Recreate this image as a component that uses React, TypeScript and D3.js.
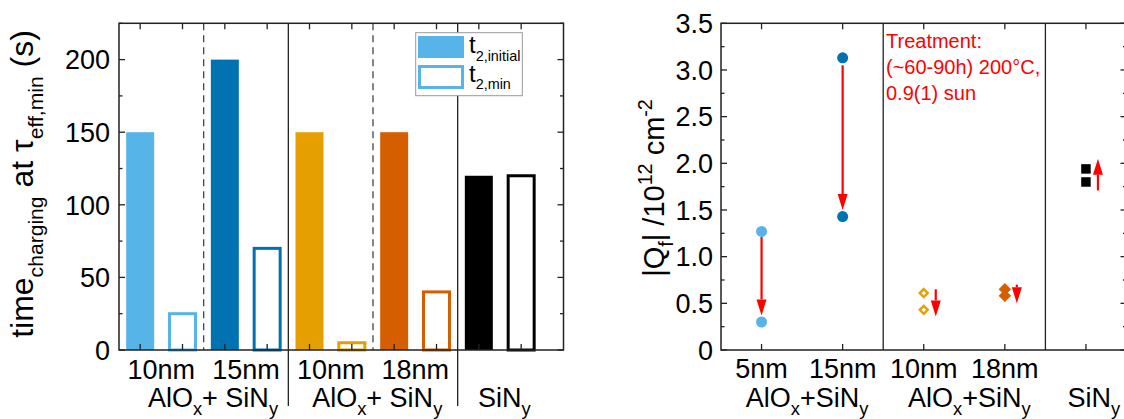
import React, { useEffect, useRef } from "react";
import * as d3 from "d3";

// left panel: charging time bars
const barLabels = ["10nm", "15nm", "10nm", "18nm", ""];
const tInitial = [150, 200, 150, 150, 120];
const tMin = [25, 70, 5, 40, 120];
const barColors = ["#56B4E9", "#0072B2", "#E69F00", "#D55E00", "#000000"];
const leftTicks = [0, 50, 100, 150, 200];
const leftMinor = [25, 75, 125, 175, 225];

// right panel: |Qf| before / after treatment
const qfLabels = ["5nm", "15nm", "10nm", "18nm", ""];
const qfFirst = [1.27, 3.13, 0.61, 0.65, 1.94];
const qfSecond = [0.30, 1.43, 0.43, 0.58, 1.80];
const qfColors = ["#56B4E9", "#0072B2", "#E69F00", "#D55E00", "#000000"];
const qfShapes = ["circle", "circle", "diamondOpen", "diamond", "square"];
const arrowFrom = [1.21, 3.05, 0.65, 0.70, 1.71];
const arrowTo = [0.37, 1.50, 0.36, 0.50, 2.05];
const rightTicks = [0, 0.5, 1, 1.5, 2, 2.5, 3, 3.5];
const rightMinor = [0.25, 0.75, 1.25, 1.75, 2.25, 2.75, 3.25];
const treatment = ["Treatment:", "(~60-90h) 200°C,", "0.9(1) sun"];

const FONT = "'Liberation Sans', Arial, sans-serif";
const TOP = 23.3;
const BOTTOM = 350;
const AXIS = "#222";

type Part = [string, string | null];

function richText(sel: any, parts: Part[], size: number, small = 0.68) {
  let shift = 0;
  parts.forEach(([s, kind]) => {
    const target = kind === "sub" ? size * 0.32 : kind === "sup" ? -size * 0.42 : 0;
    sel.append("tspan")
      .attr("dy", target - shift)
      .attr("font-size", kind ? size * small : size)
      .text(s);
    shift = target;
  });
}

function drawFrame(g: any, x: any, y: any, xPos: number[], major: number[], minor: number[]) {
  const [x0, x1] = x.range();
  g.append("rect")
    .attr("x", x0).attr("y", TOP)
    .attr("width", x1 - x0).attr("height", BOTTOM - TOP)
    .attr("fill", "none").attr("stroke", AXIS).attr("stroke-width", 1.5);
  xPos.forEach((p) => {
    g.append("line").attr("x1", x(p)).attr("x2", x(p)).attr("y1", BOTTOM).attr("y2", BOTTOM - 6)
      .attr("stroke", AXIS).attr("stroke-width", 1.3);
    g.append("line").attr("x1", x(p)).attr("x2", x(p)).attr("y1", TOP).attr("y2", TOP + 6)
      .attr("stroke", AXIS).attr("stroke-width", 1.3);
  });
  major.concat(minor).forEach((v) => {
    const len = major.includes(v) ? 6 : 3.5;
    g.append("line").attr("x1", x0).attr("x2", x0 + len).attr("y1", y(v)).attr("y2", y(v))
      .attr("stroke", AXIS).attr("stroke-width", 1.3);
    g.append("line").attr("x1", x1).attr("x2", x1 - len).attr("y1", y(v)).attr("y2", y(v))
      .attr("stroke", AXIS).attr("stroke-width", 1.3);
  });
}

function drawArrow(g: any, x: number, y1: number, y2: number) {
  const dir = y2 > y1 ? 1 : -1;
  const head = 16, half = 5;
  g.append("line").attr("x1", x).attr("x2", x).attr("y1", y1).attr("y2", y2 - dir * head)
    .attr("stroke", "#FF0000").attr("stroke-width", 2.2);
  g.append("path")
    .attr("d", `M${x},${y2} L${x - half},${y2 - dir * head} L${x + half},${y2 - dir * head} Z`)
    .attr("fill", "#FF0000");
}

export default function App() {
  const ref = useRef<SVGSVGElement>(null);

  useEffect(() => {
    const svg = d3.select(ref.current);
    svg.selectAll("*").remove();

    // ---------- left chart ----------
    const xL = d3.scaleLinear().domain([0.5, 11]).range([119, 563.5]);
    const yL = d3.scaleLinear().domain([0, 225]).range([BOTTOM, TOP]);
    const left = svg.append("g");

    [2.5, 6.5].forEach((p) => {
      left.append("line").attr("x1", xL(p)).attr("x2", xL(p)).attr("y1", TOP).attr("y2", BOTTOM)
        .attr("stroke", "#444").attr("stroke-width", 1.3).attr("stroke-dasharray", "7,5");
    });
    [4.5, 8.5].forEach((p) => {
      left.append("line").attr("x1", xL(p)).attr("x2", xL(p)).attr("y1", TOP).attr("y2", 406)
        .attr("stroke", AXIS).attr("stroke-width", 1.3);
    });

    tInitial.forEach((v, i) => {
      const p = 2 * i + 1;
      left.append("rect")
        .attr("x", xL(p) - 14).attr("width", 28)
        .attr("y", yL(v)).attr("height", BOTTOM - yL(v))
        .attr("fill", barColors[i]);
    });
    tMin.forEach((v, i) => {
      const p = 2 * i + 2;
      left.append("rect")
        .attr("x", xL(p) - 13).attr("width", 26)
        .attr("y", yL(v)).attr("height", BOTTOM - yL(v))
        .attr("fill", "white").attr("stroke", barColors[i]).attr("stroke-width", 3);
    });

    drawFrame(left, xL, yL, d3.range(1, 11), leftTicks, leftMinor);

    leftTicks.forEach((v) => {
      left.append("text").attr("x", 110).attr("y", yL(v)).attr("dy", "0.36em")
        .attr("text-anchor", "end").attr("font-size", 27).text(v);
    });

    barLabels.forEach((s, i) => {
      if (!s) return;
      left.append("text").attr("x", xL(2 * i + 1.5)).attr("y", 379)
        .attr("text-anchor", "middle").attr("font-size", 27).text(s);
    });
    [2.72, 6.6].forEach((p) => {
      const t = left.append("text").attr("x", xL(p)).attr("y", 406.7).attr("text-anchor", "middle");
      richText(t, [["AlO", null], ["x", "sub"], ["+ SiN", null], ["y", "sub"]], 27);
    });
    const sinL = left.append("text").attr("x", xL(9.6)).attr("y", 406.7).attr("text-anchor", "middle");
    richText(sinL, [["SiN", null], ["y", "sub"]], 27);

    // legend
    const lg = left.append("g");
    lg.append("rect").attr("x", 415.7).attr("y", 32.7).attr("width", 106.6).attr("height", 63)
      .attr("fill", "white").attr("stroke", "#999").attr("stroke-width", 1);
    lg.append("rect").attr("x", 418).attr("y", 36).attr("width", 46).attr("height", 22)
      .attr("fill", barColors[0]);
    lg.append("rect").attr("x", 419.5).attr("y", 66.5).attr("width", 43).attr("height", 21)
      .attr("fill", "white").attr("stroke", barColors[0]).attr("stroke-width", 3);
    const l1 = lg.append("text").attr("x", 469).attr("y", 53.3);
    richText(l1, [["t", null], ["2,initial", "sub"]], 24, 0.6);
    const l2 = lg.append("text").attr("x", 469).attr("y", 81.7);
    richText(l2, [["t", null], ["2,min", "sub"]], 24, 0.6);

    const titleL = left.append("text")
      .attr("transform", "translate(33,184) rotate(-90)")
      .attr("text-anchor", "middle");
    richText(titleL, [["time", null], ["charging", "sub"], [" at ", null], ["τ", null], ["eff,min", "sub"], [" (s)", null]], 32, 0.66);

    // ---------- right chart ----------
    const xR = d3.scaleLinear().domain([0.5, 5.5]).range([721, 1126.5]);
    const yR = d3.scaleLinear().domain([0, 3.5]).range([BOTTOM, TOP]);
    const right = svg.append("g");

    [2.5, 4.5].forEach((p) => {
      right.append("line").attr("x1", xR(p)).attr("x2", xR(p)).attr("y1", TOP).attr("y2", BOTTOM)
        .attr("stroke", AXIS).attr("stroke-width", 1.3);
    });
    drawFrame(right, xR, yR, d3.range(1, 6), rightTicks, rightMinor);

    rightTicks.forEach((v) => {
      right.append("text").attr("x", 713).attr("y", yR(v)).attr("dy", "0.36em")
        .attr("text-anchor", "end").attr("font-size", 27).text(v === 0 ? "0" : d3.format(".1f")(v));
    });

    qfLabels.forEach((s, i) => {
      if (!s) return;
      right.append("text").attr("x", xR(i + 1)).attr("y", 378.3)
        .attr("text-anchor", "middle").attr("font-size", 27).text(s);
    });
    [1.5, 3.5].forEach((p) => {
      const t = right.append("text").attr("x", xR(p) + 5).attr("y", 406.7).attr("text-anchor", "middle");
      richText(t, [["AlO", null], ["x", "sub"], ["+SiN", null], ["y", "sub"]], 27);
    });
    const sinR = right.append("text").attr("x", xR(5) + 8).attr("y", 406.7).attr("text-anchor", "middle");
    richText(sinR, [["SiN", null], ["y", "sub"]], 27);

    // arrows
    arrowFrom.forEach((v, i) => {
      const dx = i < 2 ? 0 : 12;
      drawArrow(right, xR(i + 1) + dx, yR(v), yR(arrowTo[i]));
    });

    // markers
    qfShapes.forEach((shape, i) => {
      const cx = xR(i + 1);
      [qfFirst[i], qfSecond[i]].forEach((v) => {
        const cy = yR(v);
        if (shape === "circle") {
          right.append("circle").attr("cx", cx).attr("cy", cy).attr("r", 5.5).attr("fill", qfColors[i]);
        } else if (shape === "square") {
          right.append("rect").attr("x", cx - 4.75).attr("y", cy - 4.75).attr("width", 9.5).attr("height", 9.5)
            .attr("fill", qfColors[i]);
        } else {
          const r = shape === "diamond" ? 6 : 4;
          const d = `M${cx},${cy - r} L${cx + r},${cy} L${cx},${cy + r} L${cx - r},${cy} Z`;
          right.append("path").attr("d", d)
            .attr("fill", shape === "diamond" ? qfColors[i] : "white")
            .attr("stroke", qfColors[i]).attr("stroke-width", shape === "diamond" ? 0.5 : 2.4);
        }
      });
    });

    const note = right.append("text").attr("x", 886).attr("y", 48.3)
      .attr("fill", "#FF0000").attr("font-size", 20);
    treatment.forEach((s, i) => {
      note.append("tspan").attr("x", 886).attr("dy", i === 0 ? 0 : 26).text(s);
    });

    const titleR = right.append("text")
      .attr("transform", "translate(664,188) rotate(-90)")
      .attr("text-anchor", "middle");
    richText(titleR, [["|Q", null], ["f", "sub"], ["| /10", null], ["12", "sup"], [" cm", null], ["-2", "sup"]], 29);
  }, []);

  return (
    <svg
      ref={ref}
      width={1124}
      height={419}
      style={{ position: "absolute", left: 0, top: 0, background: "white" }}
      fontFamily={FONT}
    />
  );
}
